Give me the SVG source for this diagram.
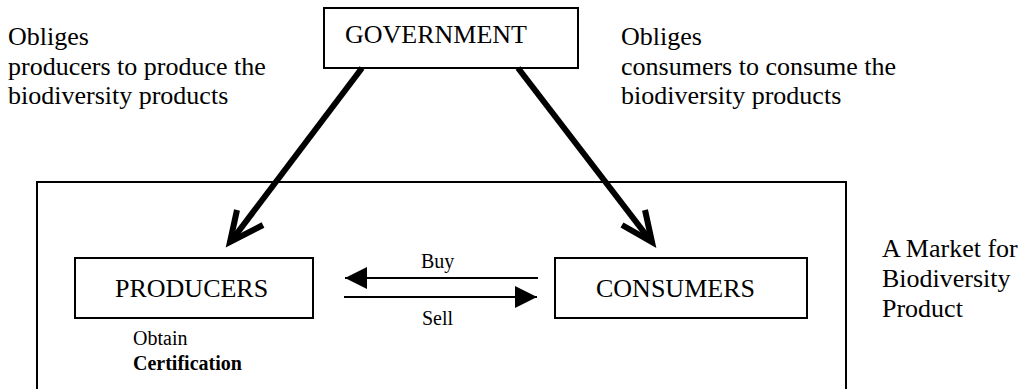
<svg xmlns="http://www.w3.org/2000/svg" width="1026" height="389" viewBox="0 0 1026 389">
<style>
  .big { font-size: 26px; }
  .small { font-size: 20px; }
  .bold { font-weight: bold; }
  .box { fill: #fff; stroke: #000; stroke-width: 2; }
  .thick { fill: none; stroke: #000; stroke-width: 6; stroke-linecap: butt; stroke-linejoin: miter; }
  .thin { fill: none; stroke: #000; stroke-width: 2; }
</style>
<defs>
  <marker id="tri" viewBox="0 0 22 22" refX="22" refY="11" markerWidth="22" markerHeight="22" markerUnits="userSpaceOnUse" orient="auto">
    <path d="M0,0 L22,11 L0,22 Z" fill="#000"/>
  </marker>
</defs>
<rect width="1026" height="389" fill="#fff"/>
<g font-family="Liberation Serif, DejaVu Serif, serif" fill="#000">
<g id="market">
  <rect class="box" x="37" y="182" width="809" height="215"/>
  <text class="big" x="882" y="257">A Market for</text>
  <text class="big" x="882" y="287">Biodiversity</text>
  <text class="big" x="882" y="317">Product</text>
</g>

<g id="government">
  <rect class="box" x="324" y="8" width="254" height="60"/>
  <text class="big" x="345" y="43">GOVERNMENT</text>
</g>

<g id="note-left">
  <text class="big" x="8" y="45">Obliges</text>
  <text class="big" x="8" y="75">producers to produce the</text>
  <text class="big" x="8" y="104">biodiversity products</text>
</g>

<g id="note-right">
  <text class="big" x="621" y="45">Obliges</text>
  <text class="big" x="621" y="75">consumers to consume the</text>
  <text class="big" x="621" y="104">biodiversity products</text>
</g>

<g id="producers">
  <rect class="box" x="75" y="258" width="238" height="60"/>
  <text class="big" x="115" y="297">PRODUCERS</text>
  <text class="small" x="133" y="345">Obtain</text>
  <text class="small bold" x="133" y="370">Certification</text>
</g>

<g id="consumers">
  <rect class="box" x="555" y="258" width="252" height="60"/>
  <text class="big" x="596" y="297">CONSUMERS</text>
</g>

<g id="connectors">
  <path class="thick" d="M362,68 L232,240"/>
  <path class="thick" d="M237,210 L230,242 L263,225"/>
  <path class="thick" d="M518,68 L650,240"/>
  <path class="thick" d="M622,225 L652,242 L645,210"/>
  <line class="thin" x1="538" y1="278" x2="345" y2="278" marker-end="url(#tri)"/>
  <line class="thin" x1="344" y1="297" x2="537" y2="297" marker-end="url(#tri)"/>
  <text class="small" x="421" y="268">Buy</text>
  <text class="small" x="422" y="325">Sell</text>
</g>
</g>
</svg>
